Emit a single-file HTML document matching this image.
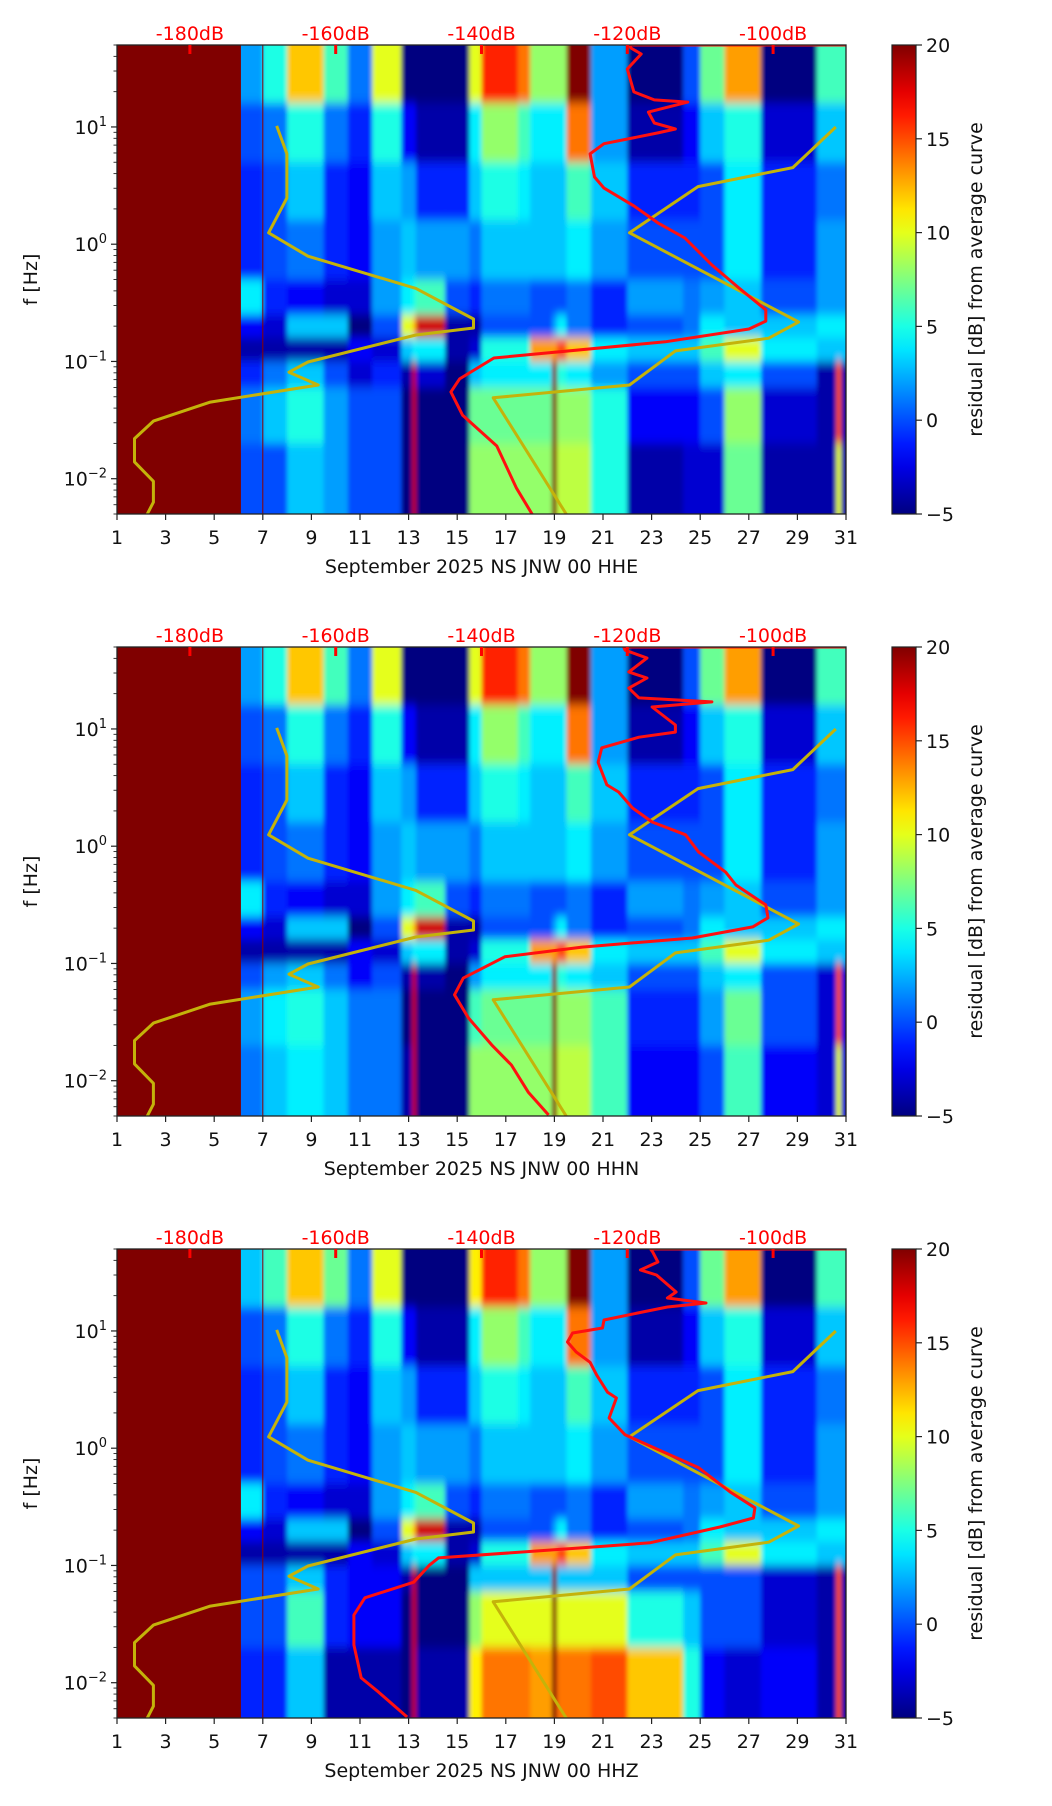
<!DOCTYPE html>
<html><head><meta charset="utf-8"><style>
html,body{margin:0;padding:0;background:#fff;}
svg{display:block;font-family:"DejaVu Sans","Liberation Sans",sans-serif;}
</style></head><body>
<svg id="fig" width="1052" height="1806" viewBox="0 0 1052 1806" xmlns="http://www.w3.org/2000/svg">
<defs>
<filter id="soft" x="-5%" y="-5%" width="110%" height="110%"><feGaussianBlur stdDeviation="2 5"/></filter>
<linearGradient id="jetgrad" x1="0" y1="1" x2="0" y2="0"></linearGradient>
</defs>
</svg>
<script>
// ---- shared axes data ----
const dayEdges=[6.1,7,8,9.5,10.5,11.5,12.7,13.15,13.3,14.5,15.5,16,17.5,18,18.9,19.1,19.5,20.5,22,24.3,25,26,27.5,29.8,30.6,30.8,31];
const freqEdges=[50,16,5,1.6,0.5,0.25,0.16,0.1,0.06,0.02,0.005];
const dayTicks=[1,3,5,7,9,11,13,15,17,19,21,23,25,27,29,31];
const dbTicks=[-180,-160,-140,-120,-100];
const decadeTicks=[-2,-1,0,1];
const cbTicks=[-5,0,5,10,15,20];
const stationLabels=["September 2025 NS JNW 00 HHE","September 2025 NS JNW 00 HHN","September 2025 NS JNW 00 HHZ"];
// ---- heatmap residual values (dB), rows top->bottom, segments left->right ----
const panel1Rows=[
[2,5,12,6,1,10,-5,-5,-5,-5,10,16,14,8,8,8,20,2,-5,0,7,13,-5,6,6,6],
[0,1,5,1,-1,5,-2,-2,-4,-4,4,8,6,4,4,4,14,2,-4,-2,3,5,-3,3,3,3],
[-1,0,3,-1,-2,3,2,2,-1,-1,3,5,4,3,3,3,6,3,-1,-1,0,4,-1,1,1,1],
[-1,0,1,-1,-2,2,3,3,2,2,1,3,3,3,3,3,4,2,0,0,0,4,-1,2,2,2],
[4,-1,-2,-3,-3,2,4,5,6,0,-1,1,1,0,0,0,1,-1,2,1,2,3,0,2,2,2],
[-2,-3,3,3,-5,0,10,12,18,-4,-4,0,0,0,2,4,1,-1,0,1,4,3,3,4,4,4],
[-4,-4,-4,-4,-2,-3,3,4,4,-4,-3,5,5,13,13,15,12,4,3,3,6,10,4,3,3,3],
[-1,1,3,0,-3,-1,-4,18,-3,-5,3,4,4,4,20,5,4,2,0,0,3,4,0,-4,15,-4],
[1,3,5,2,0,0,-5,18,-5,-5,7,7,7,7,20,8,8,5,-2,-2,0,8,-3,-4,15,-4],
[0,0,3,2,0,0,-5,18,-5,-5,8,8,8,8,20,9,9,5,-4,-3,-3,7,-4,-4,10,-4]];
const panel2Rows=[
[2,5,12,6,1,10,-5,-5,-5,-5,10,16,14,8,8,8,20,2,-5,0,7,13,-5,6,6,6],
[0,1,5,1,-1,5,-2,-2,-4,-4,4,8,6,4,4,4,14,2,-4,-2,3,5,-3,3,3,3],
[-1,0,3,-1,-2,3,2,2,-1,-1,3,5,4,3,3,3,6,3,-1,-1,0,4,-1,1,1,1],
[-1,0,1,-1,-2,2,3,3,2,2,1,3,3,3,3,3,4,2,0,0,0,4,-1,2,2,2],
[4,-1,-2,-3,-3,2,4,5,6,0,-1,1,1,0,0,0,1,-1,2,1,2,3,0,2,2,2],
[-2,-3,3,3,-5,0,10,12,18,-4,-4,0,0,0,2,4,1,-1,0,1,4,3,3,4,4,4],
[-4,-4,-4,-4,-2,-3,3,4,4,-4,-3,5,5,13,13,15,12,4,3,3,6,10,4,3,3,3],
[0,2,3,1,-2,0,-4,18,-4,-5,2,4,4,4,20,5,4,3,0,0,3,4,0,-3,15,-3],
[2,4,5,3,1,1,-5,18,-5,-5,6,7,7,7,20,8,8,6,-1,-1,2,7,0,-3,15,-3],
[1,3,4,3,1,1,-4,18,-5,-5,8,8,8,8,20,9,9,6,-2,-2,0,6,-2,-3,10,-3]];
const panel3Rows=[
[3,6,12,7,1,10,-5,-5,-5,-5,11,16,14,8,8,8,20,2,-5,0,7,13,-5,6,6,6],
[0,1,5,1,-1,5,-2,-2,-4,-4,4,8,6,4,4,4,14,2,-4,-2,3,5,-3,3,3,3],
[-1,0,3,-1,-2,3,2,2,-1,-1,3,5,4,3,3,3,6,3,-1,-1,0,4,-1,1,1,1],
[-1,0,1,-1,-2,2,3,3,2,2,1,3,3,3,3,3,4,2,0,0,0,4,-1,2,2,2],
[4,-1,-2,-3,-3,2,4,5,6,0,-1,1,1,0,0,0,1,-1,2,1,2,3,0,2,2,2],
[-2,-3,3,3,-5,0,10,12,18,-4,-4,0,0,0,2,4,1,-1,0,1,4,3,3,4,4,4],
[-4,-4,-4,-4,-2,-3,3,4,4,-4,-3,5,5,13,13,15,12,4,3,3,6,10,4,3,3,3],
[0,0,3,-1,-2,-2,-4,18,-5,-5,3,3,3,3,20,3,3,3,0,0,0,0,-3,-4,15,-4],
[0,0,6,-1,-2,-2,-5,18,-5,-5,8,10,10,10,20,10,10,10,5,3,0,0,-3,-4,15,-4],
[-1,-1,3,-4,-4,-4,-5,18,-4,-4,11,14,14,13,20,14,14,15,12,5,-2,-3,-2,-4,15,-4]];
// ---- noise model curves (freq Hz, dB) ----
const lowModelFreq=[10.2,5.9,2.48,1.25,0.79,0.42,0.23,0.193,0.168,0.099,0.081,0.063,0.045,0.031,0.022,0.0139,0.0095,0.0063,0.0048];
const lowModelDb=[-168.1,-166.7,-166.7,-169.2,-163.8,-149.0,-141.1,-141.1,-149.0,-163.8,-166.4,-162.4,-177.2,-185.0,-187.6,-187.6,-185.0,-185.0,-186.0];
const highModelFreq=[10,4.5,3.1,1.25,0.217,0.158,0.123,0.063,0.049,0.0048];
const highModelDb=[-91.4,-97.3,-110.3,-119.7,-96.5,-100.6,-113.4,-119.7,-138.4,-128.2];
// ---- average curves (freq Hz, dB) ----
const avg1Freq=[50,50,47.1,41.9,31.2,19.9,17.0,16.3,13.4,10.8,9.6,8.9,7.2,5.9,3.74,3.01,2.12,1.52,1.13,0.665,0.424,0.275,0.221,0.189,0.147,0.107,0.071,0.055,0.0349,0.019,0.0083,0.0048];
const avg1Db=[-90,-119.7,-119.5,-118.1,-120.0,-119.1,-116.3,-111.7,-117.1,-116.3,-113.4,-115.8,-123.2,-125.1,-124.5,-123.2,-119.1,-115.8,-112.1,-108.4,-104.7,-101.0,-101.0,-103.3,-114.8,-138.3,-143.0,-144.2,-142.6,-137.9,-135.2,-132.9];
const avg2Freq=[50,50,47,40.3,30.6,27.2,22.3,18.4,17.0,15.4,10.8,9.4,8.5,6.9,5.2,3.33,2.9,2.12,1.61,1.25,0.89,0.60,0.467,0.316,0.245,0.205,0.165,0.138,0.114,0.075,0.054,0.0343,0.0202,0.0136,0.008,0.0051];
const avg2Db=[-90,-120.5,-120.3,-117.3,-119.8,-117.3,-119.8,-118.4,-108.4,-116.6,-113.4,-113.4,-118.4,-123.5,-124.0,-122.8,-121.2,-119.3,-116.6,-112.0,-110.2,-106.5,-105.1,-101.0,-100.7,-102.8,-111.1,-126.2,-136.8,-142.5,-143.7,-141.8,-138.6,-135.9,-133.6,-130.8];
const avg3Freq=[50,50,47,38.7,33.1,30.0,21.5,19.1,17.3,16.0,14.5,12.4,10.6,9.6,8.05,6.6,5.4,4.2,3.0,2.68,1.81,1.30,0.68,0.42,0.31,0.254,0.213,0.156,0.141,0.116,0.101,0.072,0.053,0.0378,0.021,0.011,0.0083,0.0051];
const avg3Db=[-90,-116.8,-116.5,-115.8,-118.2,-116.0,-113.3,-114.5,-109.2,-114.5,-117.9,-123.2,-123.4,-127.5,-128.2,-127.0,-125.1,-124.2,-122.7,-121.5,-122.5,-120.3,-110.2,-105.8,-102.5,-102.7,-107.3,-116.9,-126.6,-145.9,-147.1,-149.3,-156.0,-157.5,-157.5,-156.5,-154.1,-150.2];

const NS="http://www.w3.org/2000/svg";
const svg=document.getElementById('fig');
const L=117,R=846,H=469,TOPS=[45,647,1249];
const FMAX=50,FMIN=0.005,DAY0=1,DAY1=31,DB0=-190,DB1=-90,VMIN=-5,VMAX=20;
const FS=19;
function xDay(d){return L+(d-DAY0)/(DAY1-DAY0)*(R-L);}
function xDb(v){return L+(v-DB0)/(DB1-DB0)*(R-L);}
function yF(top,f){return top+(Math.log10(FMAX)-Math.log10(f))/(Math.log10(FMAX)-Math.log10(FMIN))*H;}
function cl(v){return Math.max(0,Math.min(1,v));}
function jet(v){const t=cl((v-VMIN)/(VMAX-VMIN));
 const r=cl(1.5-Math.abs(4*t-3)),g=cl(1.5-Math.abs(4*t-2)),b=cl(1.5-Math.abs(4*t-1));
 return `rgb(${Math.round(r*255)},${Math.round(g*255)},${Math.round(b*255)})`;}
function mk(tag,attrs,parent){const e=document.createElementNS(NS,tag);for(const k in attrs)e.setAttribute(k,attrs[k]);(parent||svg).appendChild(e);return e;}

const panels=[panel1Rows,panel2Rows,panel3Rows];
const avgF=[avg1Freq,avg2Freq,avg3Freq],avgD=[avg1Db,avg2Db,avg3Db];

panels.forEach((rows,p)=>{
 const top=TOPS[p];
 const g=mk('g',{});
 
 
 const cp=mk('clipPath',{id:'clip'+p},svg.querySelector('defs'));
 mk('rect',{x:L,y:top,width:R-L,height:H},cp);
 const hmClip=mk('g',{'clip-path':'url(#clip'+p+')'},g);
 const hm=mk('g',{filter:'url(#soft)'},hmClip);
 
 
 rows.forEach((row,r)=>{
  let fa=freqEdges[r],fb=freqEdges[r+1];
  let ya=r===0?top-30:yF(top,fa), yb=r===rows.length-1?top+H+30:yF(top,fb);
  row.forEach((v,s)=>{
   const da=s===0?5.5:dayEdges[s], db=s===row.length-1?32.5:dayEdges[s+1];
   const c=mk('rect',{x:xDay(da),y:ya,width:xDay(db)-xDay(da)+0.5,height:yb-ya+0.5,fill:jet(v)},hm);
   
   
  });
 });
 const nd=mk('rect',{x:L,y:top,width:xDay(dayEdges[0])-L,height:H,fill:jet(VMAX)},g);
 
 
 mk('line',{x1:xDay(7),x2:xDay(7),y1:top,y2:top+H,stroke:'#8a0000','stroke-width':1},g);
 const cg=mk('g',{'clip-path':'url(#clip'+p+')'},g);
 function poly(fs,ds,color,w,name){
  const pts=fs.map((f,i)=>xDb(ds[i]).toFixed(1)+','+yF(top,f).toFixed(1)).join(' ');
  const pl=mk('polyline',{points:pts,fill:'none',stroke:color,'stroke-width':w,'stroke-linejoin':'round'},cg);
  
  
 }
 poly(lowModelFreq,lowModelDb,'#c4b30a',3,'low-noise-model-curve');
 poly(highModelFreq,highModelDb,'#c4b30a',3,'high-noise-model-curve');
 poly(avgF[p],avgD[p],'#ff1010',3,'average-psd-curve');
 mk('rect',{x:L,y:top,width:R-L,height:H,fill:'none',stroke:'#222','stroke-width':1.3},g);
 dayTicks.forEach(d=>{
  const x=xDay(d);
  mk('line',{x1:x,x2:x,y1:top+H,y2:top+H+6,stroke:'#222','stroke-width':1.2},g);
  const t=mk('text',{x:x,y:top+H+30,'text-anchor':'middle','font-size':FS,fill:'#111'},g);
  t.textContent=d;
  
  
 });
 const xl=mk('text',{x:(L+R)/2,y:top+H+59,'text-anchor':'middle','font-size':FS,fill:'#111'},g);
 xl.textContent=stationLabels[p];
 
 
 dbTicks.forEach(v=>{
  const x=xDb(v);
  mk('line',{x1:x,x2:x,y1:top,y2:top+9,stroke:'#ff0000','stroke-width':3},g);
  const t=mk('text',{x:x,y:top-5,'text-anchor':'middle','font-size':FS,fill:'#ff0000'},g);
  t.textContent=v+'dB';
  
  
 });
 for(let e=-3;e<=1;e++){for(let m=1;m<10;m++){const f=m*Math.pow(10,e);if(f<FMIN||f>FMAX)continue;
  const y=yF(top,f);mk('line',{x1:L-(m===1?6:3.5),x2:L,y1:y,y2:y,stroke:'#222','stroke-width':m===1?1.2:0.9},g);}}
 decadeTicks.forEach(e=>{
  const y=yF(top,Math.pow(10,e));
  const t=mk('text',{x:L-10,y:y+7,'text-anchor':'end','font-size':FS,fill:'#111'},g);
  
  
  const a=mk('tspan',{},t);a.textContent='10';
  const b=mk('tspan',{dy:-8,'font-size':13},t);b.textContent=(e<0?'\u2212':'')+Math.abs(e);
 });
 const yl=mk('text',{x:0,y:0,transform:`translate(37,${top+H/2}) rotate(-90)`,'text-anchor':'middle','font-size':FS,fill:'#111'},g);
 yl.textContent='f [Hz]';
 
 
 const cb=mk('rect',{x:892,y:top,width:24,height:H,fill:'url(#jetgrad)',stroke:'#222','stroke-width':1.2},g);
 
 
 cbTicks.forEach(v=>{
  const y=top+H-(v-VMIN)/(VMAX-VMIN)*H;
  mk('line',{x1:916,x2:922,y1:y,y2:y,stroke:'#222','stroke-width':1.2},g);
  const t=mk('text',{x:926,y:y+7,'font-size':FS,fill:'#111'},g);
  t.textContent=v<0?'\u2212'+Math.abs(v):v;
  
  
 });
 const cl2=mk('text',{x:0,y:0,transform:`translate(982,${top+H/2}) rotate(-90)`,'text-anchor':'middle','font-size':FS,fill:'#111'},g);
 cl2.textContent='residual [dB] from average curve';
 
 
});
const grad=document.getElementById('jetgrad');
for(let i=0;i<=20;i++){const v=VMIN+(VMAX-VMIN)*i/20;mk('stop',{offset:(i/20),'stop-color':jet(v)},grad);}
</script>
</body></html>
